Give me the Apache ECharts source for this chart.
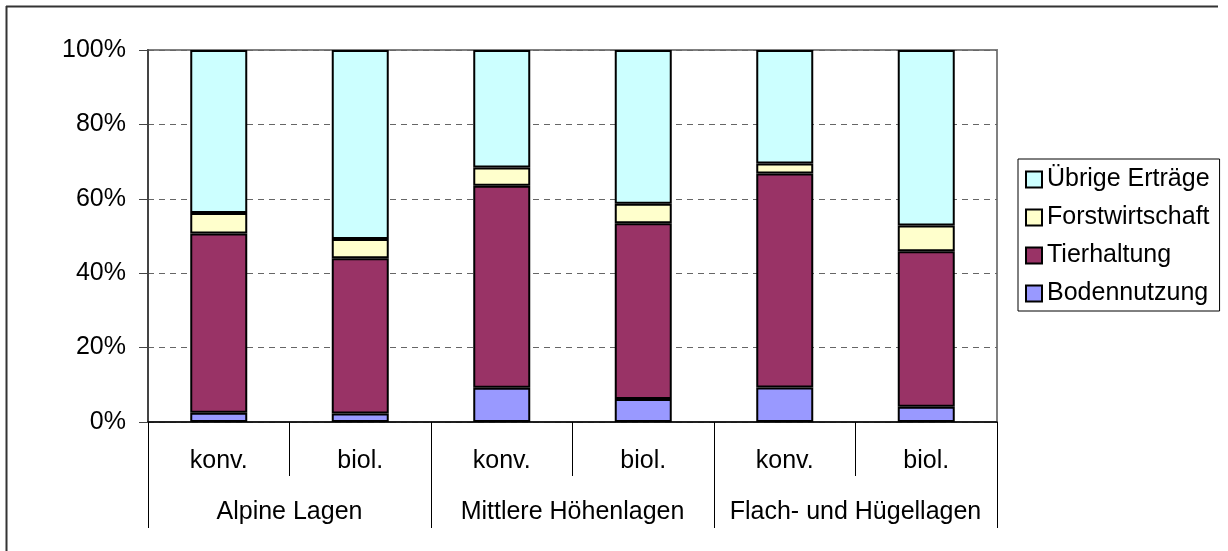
<!DOCTYPE html>
<html>
<head>
<meta charset="utf-8">
<script src="https://cdn.jsdelivr.net/npm/echarts@6/dist/echarts.min.js"></script>
<style>
html,body{margin:0;padding:0;background:#fff;}
#chart{width:1228px;height:551px;}
</style>
</head>
<body>
<div id="chart"></div>
<script>
const categories = ['konv.', 'biol.', 'konv.', 'biol.', 'konv.', 'biol.'];
const groups = ['Alpine Lagen', 'Mittlere Höhenlagen', 'Flach- und Hügellagen'];
const yTicks = [0, 20, 40, 60, 80, 100];
const bodennutzung = [2.5, 2.3, 9.2, 6.2, 9.3, 4.1];
const tierhaltung = [48.2, 41.7, 54.3, 47.2, 57.5, 41.8];
const forstwirtschaft = [5.5, 5.2, 4.9, 5.3, 2.7, 6.9];
const uebrige = [43.8, 50.8, 31.6, 41.3, 30.5, 47.2];
const seriesNames = ['Bodennutzung', 'Tierhaltung', 'Forstwirtschaft', 'Übrige Erträge'];
const seriesColors = ['#9999FF', '#993366', '#FFFFCC', '#CCFFFF'];
const seriesData = [bodennutzung, tierhaltung, forstwirtschaft, uebrige];

const FONT = 'Liberation Sans';
const FS = 25;

const chart = echarts.init(document.getElementById('chart'), null, {renderer: 'canvas'});
chart.setOption({
  animation: false,
  backgroundColor: '#fff',
  textStyle: {fontFamily: FONT},
  grid: {
    left: 148, right: 231, top: 50, bottom: 129,
    show: true, borderColor: '#808080', borderWidth: 2, backgroundColor: 'transparent'
  },
  legend: {
    orient: 'vertical',
    left: 1018, top: 159,
    data: seriesNames.slice().reverse(),
    icon: 'rect',
    itemWidth: 16, itemHeight: 16,
    itemGap: 13,
    padding: [8, 10, 5, 7],
    borderColor: '#000', borderWidth: 1,
    backgroundColor: '#fff',
    textStyle: {fontFamily: FONT, fontSize: FS, color: '#000'},
    itemStyle: {borderColor: '#000', borderWidth: 2}
  },
  xAxis: [
    {
      type: 'category', data: categories, position: 'bottom',
      axisLine: {show: true, lineStyle: {color: '#000', width: 1.5}},
      axisTick: {show: true, interval: 0, length: 54, lineStyle: {color: '#000', width: 1}},
      axisLabel: {interval: 0, margin: 27, fontFamily: FONT, fontSize: FS, color: '#000'},
      splitLine: {show: false}
    },
    {
      type: 'category', data: groups, position: 'bottom',
      axisLine: {show: false},
      axisTick: {show: true, interval: 0, length: 106, lineStyle: {color: '#000', width: 1}},
      axisLabel: {interval: 0, margin: 78, fontFamily: FONT, fontSize: FS, color: '#000'},
      splitLine: {show: false}
    }
  ],
  yAxis: {
    type: 'value', min: yTicks[0], max: yTicks[yTicks.length - 1], interval: 20,
    axisLine: {show: true, lineStyle: {color: '#444', width: 2}},
    axisTick: {show: true, length: 9, lineStyle: {color: '#444', width: 1}},
    axisLabel: {formatter: '{value}%', margin: 22, fontFamily: FONT, fontSize: FS, color: '#000'},
    splitLine: {show: true, lineStyle: {color: '#666', width: 1, type: [6, 5]}}
  },
  series: seriesNames.map((name, i) => ({
    name: name,
    type: 'bar',
    stack: 'total',
    xAxisIndex: 0,
    barWidth: 57,
    data: seriesData[i],
    itemStyle: {color: seriesColors[i], borderColor: '#000', borderWidth: 2}
  })),
  graphic: [
    {type: 'line', shape: {x1: 6, y1: 6.5, x2: 1218, y2: 6.5}, style: {stroke: '#333', lineWidth: 2}, silent: true},
    {type: 'line', shape: {x1: 6.5, y1: 6, x2: 6.5, y2: 551}, style: {stroke: '#333', lineWidth: 2}, silent: true}
  ]
});
</script>
</body>
</html>
